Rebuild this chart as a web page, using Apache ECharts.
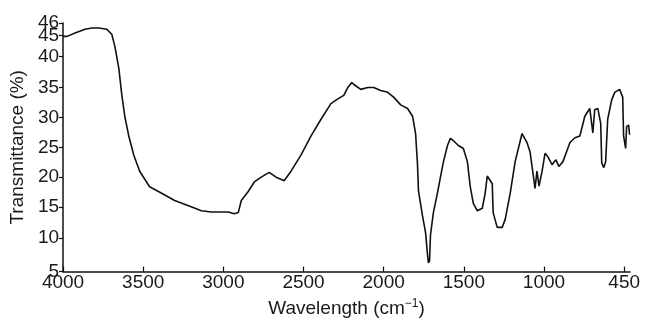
<!DOCTYPE html>
<html>
<head>
<meta charset="utf-8">
<script src="https://cdn.jsdelivr.net/npm/echarts@6/dist/echarts.min.js"></script>
<style>
  html, body { margin: 0; background: #fff; }
  #chart { width: 648px; height: 323px; }
</style>
</head>
<body>
<div id="chart"></div>
<script>
// IR spectrum
const wavenumbers = [
  4000, 3975, 3925, 3863, 3820, 3776, 3727, 3696, 3677, 3652, 3634, 3615, 3590, 3559, 3522,
  3460, 3385, 3304, 3217, 3137, 3075, 2969, 2932, 2907, 2888, 2845, 2807, 2764, 2714, 2671,
  2621, 2578, 2516, 2453, 2391, 2329, 2286, 2249, 2224, 2199, 2186, 2143, 2099, 2062, 2019,
  1975, 1938, 1894, 1851, 1820, 1801, 1789, 1783, 1758, 1739, 1727, 1721, 1714, 1708, 1690,
  1665, 1646, 1627, 1602, 1584, 1565, 1534, 1503, 1478, 1460, 1441, 1416, 1385, 1367, 1354,
  1342, 1323, 1317, 1292, 1261, 1242, 1211, 1180, 1137, 1106, 1087, 1068, 1056, 1044, 1031,
  1012, 993, 973, 945, 918, 898, 870, 822, 788, 754, 720, 686, 665, 652, 631,
  611, 604, 590, 577, 563, 536, 515, 481, 460, 454, 440, 433, 419, 413
]
const transmittance = [
  44.8, 44.8, 45.2, 45.5, 45.6, 45.6, 45.5, 45.1, 42.5, 38.1, 33.9, 30.2, 26.9, 23.7, 21.0,
  18.4, 17.3, 16.1, 15.2, 14.4, 14.2, 14.2, 13.9, 14.1, 16.1, 17.6, 19.2, 20.0, 20.8, 20.0,
  19.4, 21.0, 23.7, 26.9, 29.7, 32.3, 33.1, 33.7, 35.0, 35.8, 35.5, 34.7, 35.0, 35.0, 34.5,
  34.2, 33.4, 32.1, 31.5, 30.2, 27.3, 22.1, 17.7, 13.6, 10.9, 7.6, 6.3, 6.6, 10.5, 14.1,
  17.3, 20.0, 22.6, 25.3, 26.5, 26.1, 25.3, 24.8, 22.6, 18.4, 15.6, 14.4, 14.8, 17.3, 20.2,
  20.5, 18.9, 14.1, 11.7, 11.7, 13.0, 17.3, 22.6, 27.3, 25.8, 24.2, 20.5, 18.1, 21.0, 18.5,
  21.0, 24.0, 23.4, 22.1, 22.9, 21.8, 22.6, 25.8, 26.6, 26.9, 30.2, 31.5, 27.4, 31.3, 31.5,
  29.0, 22.4, 21.6, 22.6, 29.7, 32.9, 34.2, 34.7, 33.4, 26.9, 24.8, 28.5, 28.7, 27.1
]
const xTickLabels = [4000, 3500, 3000, 2500, 2000, 1500, 1000, 450]
const yTickLabels = [5, 10, 15, 20, 25, 30, 35, 40, 45, 46]

// the figure's axes are not linear: ticks are placed at these stops
const xScaleStops = [0, 1, 2, 3, 4, 5, 6, 7]
const yScaleStops = [0, 35, 67, 98, 129, 160, 191, 223, 245, 258]
const X_END = 410
const Y_MAX = yScaleStops[yScaleStops.length - 1]

// piecewise linear map from domain (d) to range (r)
function interp(v, d, r) {
  for (let i = 0; i < d.length - 1; i++) {
    const a = d[i], b = d[i + 1]
    const lo = Math.min(a, b), hi = Math.max(a, b)
    if (v >= lo && v <= hi) return r[i] + (v - a) / (b - a) * (r[i + 1] - r[i])
  }
  // extrapolate from the closest segment
  const i = Math.abs(v - d[0]) < Math.abs(v - d[d.length - 1]) ? 0 : d.length - 2
  return r[i] + (v - d[i]) / (d[i + 1] - d[i]) * (r[i + 1] - r[i])
}
const toX = wn => interp(wn, xTickLabels, xScaleStops)
const toY = t => interp(t, yTickLabels, yScaleStops)
const labelFor = (v, stops, labels) => {
  const i = stops.findIndex(s => Math.abs(s - v) < 1e-6)
  return i >= 0 ? String(labels[i]) : ''
}

const seriesData = wavenumbers.map((wn, i) => [toX(wn), toY(transmittance[i])])

const FONT = 'Liberation Sans, Arial, sans-serif'
const TEXT = '#1a1a1a'
const labelStyle = { fontFamily: FONT, fontSize: 19, color: TEXT }

// top label (46) sits too close to 45 for one axis to keep both, so it gets its own overlay axis
const yMain = yScaleStops.slice(0, -1)
const yTop = yScaleStops.slice(-1)

const chart = echarts.init(document.getElementById('chart'), null, { renderer: 'canvas' })
chart.setOption({
  backgroundColor: '#fff',
  animation: false,
  grid: { left: 61, right: 18, top: 23, bottom: 42, containLabel: false },
  xAxis: {
    type: 'value',
    min: 0,
    max: toX(X_END),
    name: 'Wavelength (cm{sup|\u22121})',
    nameLocation: 'middle',
    nameGap: 15,
    nameTextStyle: {
      ...labelStyle,
      rich: { sup: { fontFamily: FONT, fontSize: 12, color: TEXT, verticalAlign: 'top', padding: [0, 0, 10, 0] } }
    },
    axisLine: { lineStyle: { color: '#111', width: 1.5 } },
    axisTick: { inside: true, length: 5, customValues: xScaleStops, lineStyle: { color: '#111', width: 1.2 } },
    axisLabel: {
      ...labelStyle,
      customValues: xScaleStops,
      margin: 2,
      showMinLabel: true,
      showMaxLabel: true,
      formatter: v => labelFor(v, xScaleStops, xTickLabels)
    },
    splitLine: { show: false }
  },
  yAxis: [{
    type: 'value',
    min: 0,
    max: Y_MAX,
    name: 'Transmittance (%)',
    nameLocation: 'middle',
    nameGap: 36,
    nameTextStyle: labelStyle,
    axisLine: { show: true, lineStyle: { color: '#111', width: 1.5 } },
    axisTick: { show: true, length: 4, customValues: yMain, lineStyle: { color: '#111', width: 1.2 } },
    axisLabel: {
      ...labelStyle,
      customValues: yMain,
      margin: 4,
      showMinLabel: true,
      formatter: v => labelFor(v, yScaleStops, yTickLabels)
    },
    splitLine: { show: false }
  }, {
    type: 'value',
    position: 'left',
    min: 0,
    max: Y_MAX,
    axisLine: { show: false },
    axisTick: { show: true, length: 4, customValues: yTop, lineStyle: { color: '#111', width: 1.2 } },
    axisLabel: {
      ...labelStyle,
      customValues: yTop,
      margin: 4,
      showMaxLabel: true,
      formatter: v => labelFor(v, yScaleStops, yTickLabels)
    },
    splitLine: { show: false }
  }],
  series: [{
    type: 'line',
    yAxisIndex: 0,
    data: seriesData,
    showSymbol: false,
    smooth: false,
    lineStyle: { color: '#111', width: 1.6 }
  }]
})
</script>
</body>
</html>
